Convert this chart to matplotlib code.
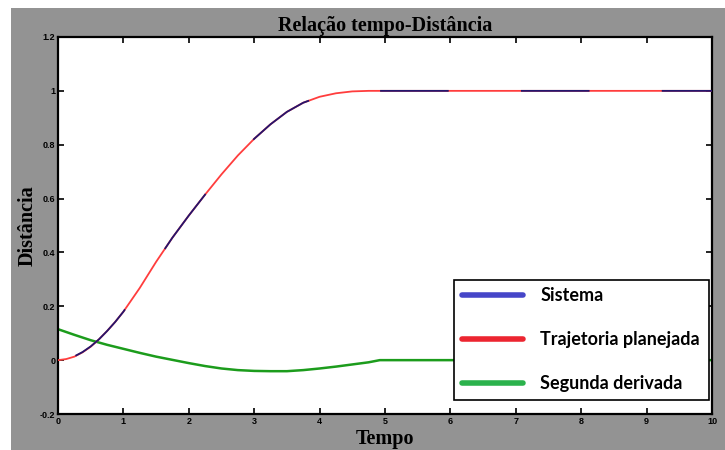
import matplotlib.pyplot as plt
from matplotlib.lines import Line2D
from matplotlib.patches import Rectangle

# tempo (s)
tempo = [0, 0.125, 0.25, 0.375, 0.5, 0.625, 0.75, 0.875, 1.0, 1.25, 1.5,
         1.75, 2.0, 2.25, 2.5, 2.75, 3.0, 3.25, 3.5, 3.75, 4.0, 4.25, 4.5,
         4.75, 5.0, 6.0, 7.0, 8.0, 9.0, 10.0]

# trajetoria planejada (distancia)
trajetoria = [0, 0.004, 0.013, 0.029, 0.05, 0.077, 0.108, 0.142, 0.18,
              0.268, 0.365, 0.455, 0.537, 0.615, 0.69, 0.76, 0.822, 0.876,
              0.922, 0.956, 0.978, 0.991, 0.998, 1.0, 1.0, 1.0, 1.0, 1.0,
              1.0, 1.0]

# resposta do sistema
sistema = [0, 0.005, 0.014, 0.03, 0.051, 0.077, 0.108, 0.142, 0.18,
           0.268, 0.365, 0.455, 0.537, 0.615, 0.69, 0.76, 0.822, 0.876,
           0.922, 0.956, 0.978, 0.991, 0.998, 1.0, 1.0, 1.0, 1.0, 1.0,
           1.0, 1.0]

# segunda derivada
tempo_d2 = [0, 0.25, 0.5, 0.75, 1.0, 1.25, 1.5, 1.75, 2.0, 2.25, 2.5, 2.75,
            3.0, 3.25, 3.5, 3.75, 4.0, 4.25, 4.5, 4.75, 4.92, 5.0, 10.0]
segunda = [0.115, 0.094, 0.074, 0.057, 0.042, 0.027, 0.013, 0.001, -0.011,
           -0.022, -0.031, -0.037, -0.04, -0.041, -0.041, -0.037, -0.031,
           -0.024, -0.016, -0.008, 0.0, 0.0, 0.0]

y_ticks = [-0.2, 0, 0.2, 0.4, 0.6, 0.8, 1, 1.2]
x_ticks = list(range(0, 11))

legend_labels = ['Sistema', 'Trajetoria planejada', 'Segunda derivada']
legend_colors = ['#4646c8', '#ec2530', '#2bb24c']

fig = plt.figure(figsize=(7.25, 4.5), dpi=100, facecolor='white')
fig.patches.append(Rectangle((11 / 725, 0), 1 - 11 / 725, 442 / 450,
                             transform=fig.transFigure, facecolor='#939393',
                             edgecolor='none', zorder=-10))

ax = fig.add_axes([58 / 725, 36 / 450, 654 / 725, 377 / 450])
ax.set_zorder(5)
ax.set_facecolor('white')

ax.plot(tempo, trajetoria, color='#ff3d3d', lw=1.3, zorder=3)
ax.plot(tempo, sistema, color='#23166e', lw=1.3, zorder=4,
        linestyle=(68, (38, 40)))
ax.plot(tempo_d2, segunda, color='#1c9c1c', lw=1.8, zorder=2)

ax.set_xlim(0, 10)
ax.set_ylim(-0.2, 1.2)
ax.set_xticks(x_ticks)
ax.set_yticks(y_ticks)
ax.set_xticklabels([f'{v:g}' for v in x_ticks])
ax.set_yticklabels([f'{v:g}' for v in y_ticks])
ax.tick_params(direction='in', length=4, width=1.2, top=True, right=True,
               labelsize=6.5, pad=2)
for lab in ax.get_xticklabels() + ax.get_yticklabels():
    lab.set_fontweight('bold')
    lab.set_family('Liberation Sans')
for s in ax.spines.values():
    s.set_linewidth(1.6)

serif = dict(family='Liberation Serif', fontweight='bold', fontsize=14.5)
ax.set_title('Relação tempo-Distância', pad=4, **serif)
ax.set_xlabel('Tempo', labelpad=2, **serif)
ax.set_ylabel('Distância', labelpad=1.5, **serif)

handles = [Line2D([], [], color=c, lw=4, solid_capstyle='round')
           for c in legend_colors]
leg = ax.legend(handles, legend_labels, loc='lower left',
                bbox_to_anchor=(0.6055, 0.037, 0.39, 0.33), mode='expand',
                fancybox=False, framealpha=1, edgecolor='black',
                handlelength=3.4, handletextpad=0.95, labelspacing=1.5,
                borderpad=0.42, borderaxespad=0,
                prop={'family': 'Lato', 'weight': 'bold', 'size': 13})
leg.get_frame().set_linewidth(1.2)

fig.savefig('out.png', dpi=100)
